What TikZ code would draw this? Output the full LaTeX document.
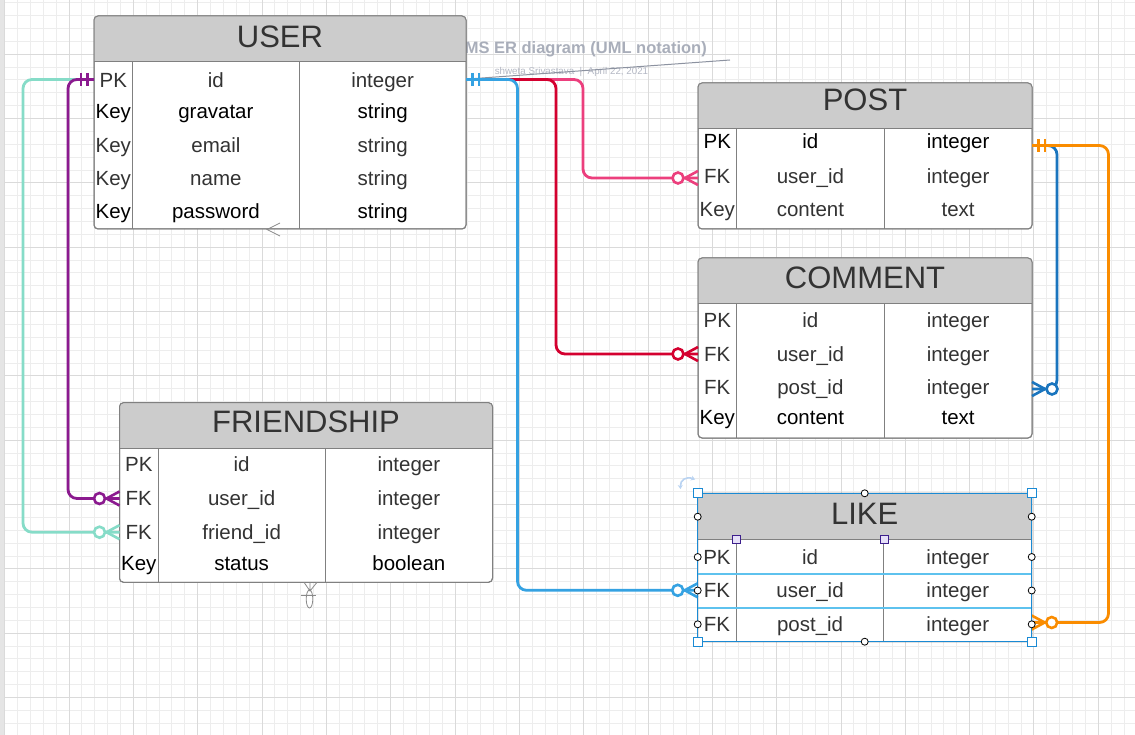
\documentclass[tikz,border=0pt]{standalone}
\usepackage{fontspec}
\setmainfont{Liberation Sans}
\usetikzlibrary{arrows.meta}
\definecolor{gridminor}{HTML}{EDEDED}
\definecolor{gridmajor}{HTML}{DADADA}
\definecolor{hdrgray}{HTML}{CCCCCC}
\definecolor{tblline}{HTML}{808080}
\definecolor{txtgray}{HTML}{333333}
\definecolor{cBlue}{HTML}{35A2E2}
\definecolor{cCrimson}{HTML}{D4002F}
\definecolor{cPink}{HTML}{EC3F7D}
\definecolor{cPurple}{HTML}{8B1A8F}
\definecolor{cTeal}{HTML}{86DCC8}
\definecolor{cDarkBlue}{HTML}{1A75BE}
\definecolor{cOrange}{HTML}{FA8C00}
\definecolor{annot}{HTML}{A9AEBA}
\definecolor{annotsub}{HTML}{B4B8C4}
\definecolor{annotline}{HTML}{8C92A0}
\definecolor{selblue}{HTML}{1A8AD4}
\definecolor{rowblue}{HTML}{5EC2EE}
\definecolor{rotblue}{HTML}{B9D3F2}
\definecolor{hpurple}{HTML}{3C1E8C}
\definecolor{hpurplefill}{HTML}{E6E0F8}
\definecolor{stray}{HTML}{8A8A8A}
\tikzset{
  tablebox/.style={draw=tblline, fill=white, line width=1pt, rounded corners=4pt, inner sep=0pt, outer sep=0pt},
  tbltitle/.style={text=txtgray, font=\fontsize{31}{36}\selectfont, inner sep=0pt, text height=24pt, text depth=1.8pt},
  cell/.style={inner sep=0pt, font=\fontsize{20.5}{24}\selectfont, text height=16.5pt, text depth=1.8pt},
  rowbox/.style={inner sep=0pt, outer sep=0pt, minimum height=30pt},
  conn/.style={line width=2.8pt, rounded corners=9pt},
  zeromany/.pic={
    \draw[line width=2.6pt] (-13,0) -- (0,-7) (-13,0) -- (0,7);
    \draw[line width=2.6pt, fill=white] (-20,0) circle (5.5pt);
  },
  onebars/.pic={
    \draw[line width=2.6pt] (6.5,-6.5) -- (6.5,6.5) (13,-6.5) -- (13,6.5);
  },
  conpt/.style={draw=black, fill=white, line width=0.8pt, circle, inner sep=0pt, minimum size=7pt},
  cornerhandle/.style={draw=selblue, fill=white, line width=1.3pt, inner sep=0pt, minimum size=9pt},
  colhandle/.style={draw=hpurple, fill=hpurplefill, line width=1pt, inner sep=0pt, minimum size=8pt},
}
% #1 name, #2 left, #3 right, #4 top, #5 header bottom, #6 bottom, #7 title, #8 title y
\newcommand{\ertable}[8]{%
  \node[tablebox, minimum width={(#3-#2)*1pt}, minimum height={(#6-#4)*1pt}, anchor=north west] (#1) at (#2,#4) {};
  \begin{scope}
    \clip[rounded corners=4pt] (#2,#4) rectangle (#3,#6);
    \fill[hdrgray] (#2,#4) rectangle (#3,#5);
  \end{scope}
  \draw[tblline, line width=1pt, rounded corners=4pt] (#2,#4) rectangle (#3,#6);
  \draw[tblline, line width=1pt] (#2,#5) -- (#3,#5);
  \draw[tblline, line width=1pt] ({#2+38.5},#5) -- ({#2+38.5},#6);
  \draw[tblline, line width=1pt] ({(#2+38.5+#3)/2},#5) -- ({(#2+38.5+#3)/2},#6);
  \node[tbltitle] (#1-title) at ({(#2+#3)/2},#8) {#7};
}
% #1 name, #2 left, #3 right, #4 row y, #5 text y, #6 key, #7 field, #8 type, #9 colour
\newcommand{\errow}[9]{%
  \node[rowbox, minimum width={(#3-#2)*1pt}] (#1) at ({(#2+#3)/2},#4) {};
  \node[cell, text=#9] (#1-k) at ({#2+19.25},#5) {#6};
  \node[cell, text=#9] (#1-f) at ({(#2+38.5+(#2+38.5+#3)/2)/2},#5) {#7};
  \node[cell, text=#9] (#1-t) at ({((#2+38.5+#3)/2+#3)/2},#5) {#8};
}
\begin{document}
\begin{tikzpicture}[x=1pt, y=-1pt]
\useasboundingbox (0,0) rectangle (1135,735);
% background and grid
\fill[white] (0,0) rectangle (1135,735);
\foreach \k in {0,...,88} { \draw[gridminor, line width=1pt] ({4.7+\k*12.866},0) -- ({4.7+\k*12.866},735); }
\foreach \k in {0,...,57} { \draw[gridminor, line width=1pt] (0,{2.8+\k*12.866}) -- (1135,{2.8+\k*12.866}); }
\foreach \k in {0,...,17} { \draw[gridmajor, line width=1pt] ({4.7+\k*64.33},0) -- ({4.7+\k*64.33},735); }
\foreach \k in {0,...,10} { \draw[gridmajor, line width=1pt] (0,{54.3+\k*64.33}) -- (1135,{54.3+\k*64.33}); }
\fill[gridmajor!70] (0,0) rectangle (4,735);

% annotation behind the tables
\node[anchor=base east, inner sep=0pt, text=annot, font=\bfseries\fontsize{16.5}{20}\selectfont] (annTitle) at (707,53.4) {MS ER diagram (UML notation)};
\node[anchor=base, inner sep=0pt, text=annotsub, font=\fontsize{9.8}{12}\selectfont] (annSub) at (571.5,74.1) {shweta Srivastava\ \ |\ \ April 22, 2021};
\coordinate (annA) at (475,78.5);
\coordinate (annB) at (730,60);
\draw[annotline, line width=1pt] (annA) -- (annB);

% ---------------- tables ----------------
\ertable{user}{94}{466}{16}{62}{229}{USER}{36.7}
\errow{user-r1}{94}{466}{79.5}{79.7}{PK}{id}{integer}{txtgray}
\errow{user-r2}{94}{466}{110.8}{110.8}{Key}{gravatar}{string}{black}
\errow{user-r3}{94}{466}{145}{145}{Key}{email}{string}{txtgray}
\errow{user-r4}{94}{466}{178.2}{178.2}{Key}{name}{string}{txtgray}
\errow{user-r5}{94}{466}{211.2}{211.2}{Key}{password}{string}{black}

\ertable{post}{698}{1032}{83}{129}{229}{POST}{99.5}
\errow{post-r1}{698}{1032}{145.5}{141}{PK}{id}{integer}{black}
\errow{post-r2}{698}{1032}{178}{176}{FK}{user\_id}{integer}{txtgray}
\errow{post-r3}{698}{1032}{209}{208.8}{Key}{content}{text}{txtgray}

\ertable{comment}{698}{1032}{258}{304}{438}{COMMENT}{277}
\errow{comment-r1}{698}{1032}{320}{320}{PK}{id}{integer}{txtgray}
\errow{comment-r2}{698}{1032}{354}{354}{FK}{user\_id}{integer}{txtgray}
\errow{comment-r3}{698}{1032}{389}{387}{FK}{post\_id}{integer}{txtgray}
\errow{comment-r4}{698}{1032}{417}{417}{Key}{content}{text}{black}

\ertable{friend}{119.5}{492.5}{402.7}{448.3}{582.3}{FRIENDSHIP}{421.5}
\errow{friend-r1}{119.5}{492.5}{463.8}{463.8}{PK}{id}{integer}{txtgray}
\errow{friend-r2}{119.5}{492.5}{498.5}{498.3}{FK}{user\_id}{integer}{txtgray}
\errow{friend-r3}{119.5}{492.5}{532.2}{532.2}{FK}{friend\_id}{integer}{txtgray}
\errow{friend-r4}{119.5}{492.5}{563.5}{563.5}{Key}{status}{boolean}{black}

\ertable{like}{697.7}{1031.7}{493.3}{539.3}{641.7}{LIKE}{513.7}
\errow{like-r1}{697.7}{1031.7}{557}{557}{PK}{id}{integer}{txtgray}
\errow{like-r2}{697.7}{1031.7}{590.3}{590.3}{FK}{user\_id}{integer}{txtgray}
\errow{like-r3}{697.7}{1031.7}{622.5}{624.3}{FK}{post\_id}{integer}{txtgray}

% stray connector ends (thin gray)
\draw[stray, line width=0.8pt] (280,223) -- (267,229.5) -- (280,236);
\draw[stray, line width=0.8pt] (304,582.3) -- (310,591) -- (317,582.3) (310,582.3) -- (310,591);
\draw[stray, line width=0.8pt] (300.5,595.7) -- (316,595.7);
\draw[stray, line width=0.8pt] (309.5,599) ellipse [x radius=3.3pt, y radius=9pt];

% ---------------- connectors ----------------
\draw[conn, cTeal] (user-r1.west) -- ++(-71,0) |- (friend-r3.west);
\draw[conn, cPurple] (user-r1.west) -- ++(-26,0) |- (friend-r2.west);
\draw[conn, cPink] (user-r1.east) -- ++(117,0) |- (post-r2.west);
\draw[conn, cCrimson] (user-r1.east) -- ++(90,0) |- (comment-r2.west);
\draw[conn, cBlue] (user-r1.east) -- ++(51.5,0) |- (like-r2.west);
\draw[conn, cDarkBlue] (post-r1.east) -- ++(25,0) |- (comment-r3.east);
\draw[conn, cOrange] (post-r1.east) -- ++(76.5,0) |- (like-r3.east);

% connector ends
\pic[cPurple, xscale=-1] at (user-r1.west) {onebars};
\pic[cBlue] at (user-r1.east) {onebars};
\pic[cOrange] at (post-r1.east) {onebars};
\pic[cTeal] at (friend-r3.west) {zeromany};
\pic[cPurple] at (friend-r2.west) {zeromany};
\pic[cPink] at (post-r2.west) {zeromany};
\pic[cCrimson] at (comment-r2.west) {zeromany};
\pic[cBlue] at (like-r2.west) {zeromany};
\pic[cDarkBlue, xscale=-1] at (comment-r3.east) {zeromany};
\pic[cOrange, xscale=-1] at (like-r3.east) {zeromany};

% ---------------- selection of LIKE ----------------
\draw[rowblue, line width=2pt] (like.west |- 0,574) -- (like.east |- 0,574);
\draw[rowblue, line width=2pt] (like.west |- 0,607.7) -- (like.east |- 0,607.7);
\draw[selblue, line width=1pt] (like.north west) rectangle (like.south east);
\foreach \yy/\nm in {516.7/a,557/b,590.5/c,624.3/d} {
  \node[conpt] (cpl-\nm) at (697.7,\yy) {};
  \node[conpt] (cpr-\nm) at (1031.7,\yy) {};
}
\node[conpt] (cpt) at (like.north) {};
\node[conpt] (cpb) at (like.south) {};
\node[colhandle] (ch1) at (736.2,539.3) {};
\node[colhandle] (ch2) at (884.2,539.3) {};
\node[cornerhandle] (h1) at (like.north west) {};
\node[cornerhandle] (h2) at (like.north east) {};
\node[cornerhandle] (h3) at (like.south west) {};
\node[cornerhandle] (h4) at (like.south east) {};
\draw[rotblue, line width=1.6pt, {Stealth[length=4pt,width=5pt]}-{Stealth[length=4pt,width=5pt]}] (680.5,489) .. controls (680,480) and (686,476) .. (695,479.5);
\end{tikzpicture}
\end{document}
